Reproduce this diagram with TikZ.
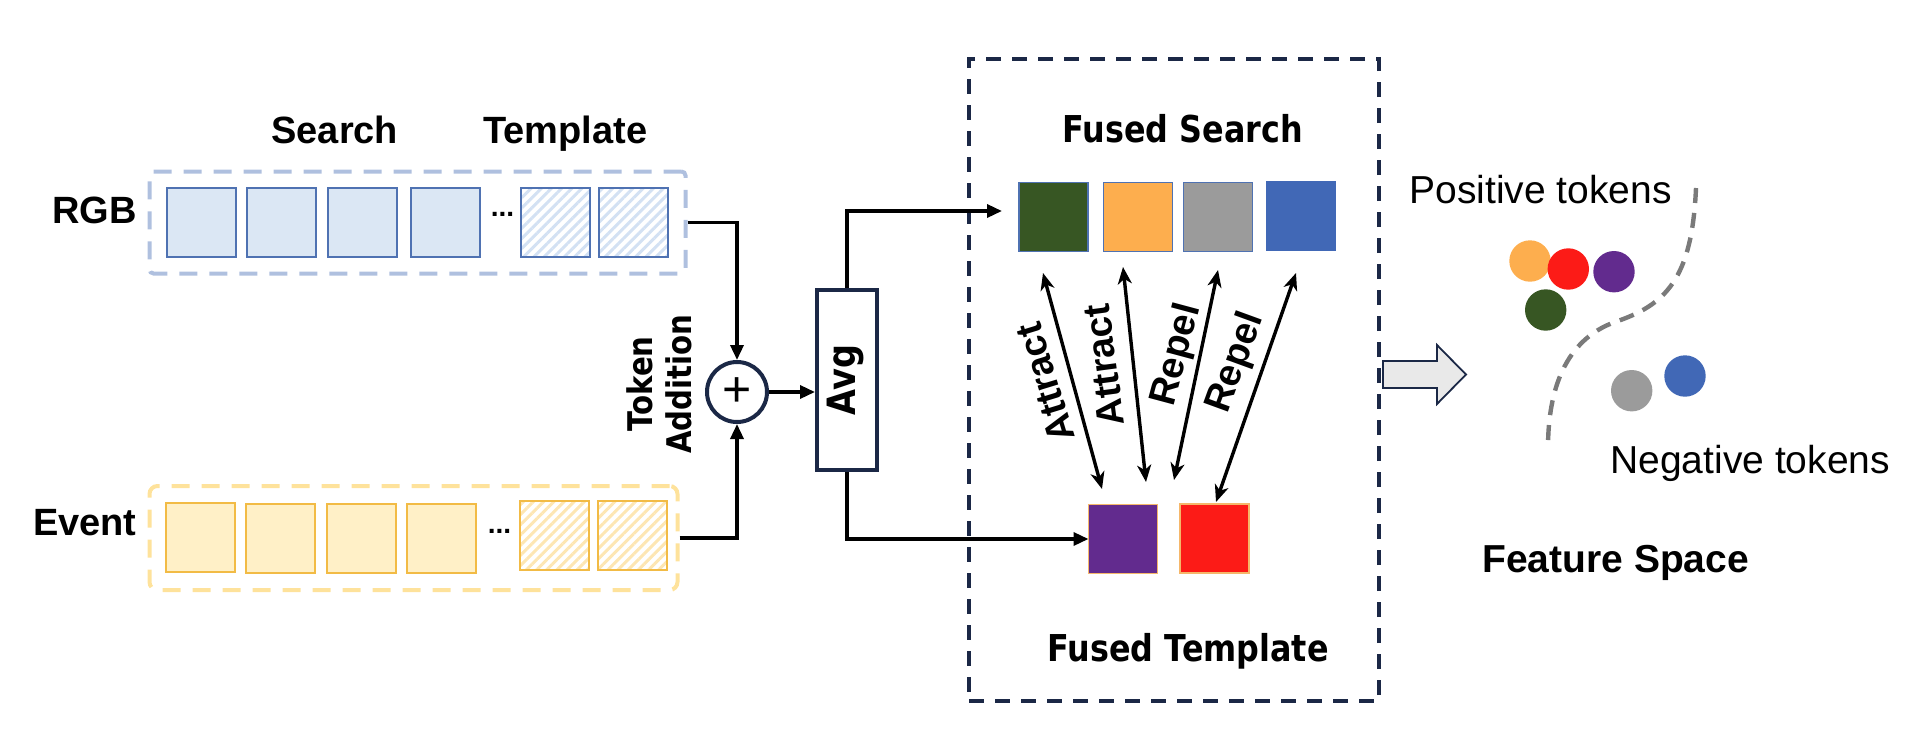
\documentclass[tikz,border=0pt]{standalone}
\usepackage{fontspec}
\setmainfont{Liberation Sans}
\newfontfamily\tah[FakeStretch=0.86]{DejaVu Sans}
\usetikzlibrary{arrows.meta,patterns.meta,calc}
\definecolor{rgbDash}{HTML}{AFC0DF}
\definecolor{rgbFill}{HTML}{DBE7F4}
\definecolor{rgbBorder}{HTML}{4F72B2}
\definecolor{rgbHatch}{HTML}{D3E1F3}
\definecolor{evDash}{HTML}{FEE29B}
\definecolor{evFill}{HTML}{FFF0C7}
\definecolor{evBorder}{HTML}{F2BB45}
\definecolor{evHatch}{HTML}{FDE6B3}
\definecolor{navy}{HTML}{1B2846}
\definecolor{cGreen}{HTML}{375623}
\definecolor{cOrange}{HTML}{FDAE4E}
\definecolor{cGray}{HTML}{9B9B9B}
\definecolor{cBlue}{HTML}{4168B6}
\definecolor{cPurple}{HTML}{622B8E}
\definecolor{cRed}{HTML}{FC1B17}
\definecolor{tplBorder}{HTML}{F5B76A}
\definecolor{curveGray}{HTML}{7A7A7A}
\definecolor{arrowGray}{HTML}{E9E9E9}
\begin{document}
\begin{tikzpicture}[x=0.5pt,y=-0.5pt,
  tok/.style={draw, line width=1pt, minimum width=34.5pt, minimum height=34.5pt, inner sep=0pt, outer sep=0pt},
  rgbtok/.style={tok, draw=rgbBorder, fill=rgbFill},
  rgbhat/.style={tok, draw=rgbBorder, pattern={Lines[angle=45,distance=3.6pt,line width=1.5pt]}, pattern color=rgbHatch},
  evtok/.style={tok, draw=evBorder, fill=evFill},
  evhat/.style={tok, draw=evBorder, pattern={Lines[angle=45,distance=3.6pt,line width=1.5pt]}, pattern color=evHatch},
  fused/.style={draw, line width=0.8pt, minimum width=34.5pt, minimum height=34.5pt, inner sep=0pt, outer sep=0pt},
  lbl/.style={font=\bfseries\fontsize{19}{22}\selectfont, inner sep=0pt},
  plain/.style={font=\fontsize{19.5}{22}\selectfont, inner sep=0pt},
  vlbl/.style={font=\tah\bfseries\fontsize{18.5}{21}\selectfont, inner sep=0pt},
  conn/.style={line width=1.7pt, -{Triangle[length=7.5pt,width=6.5pt]}},
  dbl/.style={line width=1.7pt, {Stealth[length=8.5pt,width=7pt,inset=2.5pt]}-{Stealth[length=8.5pt,width=7pt,inset=2.5pt]}},
  dot/.style={circle, minimum size=20.7pt, inner sep=0pt}
]
\useasboundingbox (0,0) rectangle (1908,750);

% ---------- input boxes ----------
\node[draw=rgbDash, line width=2pt, dash pattern=on 9pt off 6pt, rounded corners=2pt,
      minimum width=268pt, minimum height=51pt, inner sep=0pt] (rgbbox) at (417.5,222.5) {};
\node[draw=evDash, line width=2pt, dash pattern=on 9pt off 6pt, rounded corners=4pt,
      minimum width=264pt, minimum height=52pt, inner sep=0pt] (evbox) at (413.5,538) {};

\node[rgbtok] (r1) at (201,222) {};
\node[rgbtok] (r2) at (281.6,222) {};
\node[rgbtok] (r3) at (362.5,222) {};
\node[rgbtok] (r4) at (445.5,222) {};
\node[rgbhat] (r5) at (555.5,222) {};
\node[rgbhat] (r6) at (633.5,222) {};
\node[font=\bfseries\fontsize{14}{14}\selectfont, anchor=base, inner sep=0pt] (rdots) at (502.5,216) {...};

\node[evtok] (e1) at (200.8,537) {};
\node[evtok] (e2) at (280,538.7) {};
\node[evtok] (e3) at (361.5,538.7) {};
\node[evtok] (e4) at (441.7,538.7) {};
\node[evhat] (e5) at (554,535.7) {};
\node[evhat] (e6) at (632.5,535.7) {};
\node[font=\bfseries\fontsize{14}{14}\selectfont, anchor=base, inner sep=0pt] (edots) at (499.5,533) {...};

\node[lbl, anchor=base east] (rgblbl) at (137,223) {RGB};
\node[lbl, anchor=base east] (evlbl) at (137,535) {Event};
\node[lbl, anchor=base west] (searchlbl) at (271,143) {Search};
\node[lbl, anchor=base west] (templlbl) at (483,143) {Template};

% ---------- fusion ----------
\node[circle, draw=navy, line width=2pt, minimum size=30pt, inner sep=0pt,
      font=\fontsize{25}{25}\selectfont] (plus) at (737,392) {+};
\node[font=\tah\bfseries\fontsize{17}{19.5}\selectfont, rotate=90, align=center, inner sep=0pt] (tokadd) at (659,384) {Token\\Addition};
\node[draw=navy, line width=2pt, minimum width=30pt, minimum height=90pt, inner sep=0pt] (avg) at (847,380) {};
\node[font=\tah\bfseries\fontsize{19.5}{22}\selectfont, rotate=90, inner sep=0pt] (avgtxt) at (845,380) {Avg};

% ---------- fused tokens ----------
\node[draw=navy, line width=2pt, dash pattern=on 7.5pt off 5.5pt,
      minimum width=205pt, minimum height=321pt, inner sep=0pt] (fbox) at (1174,380) {};
\node[vlbl, anchor=base west] (fslbl) at (1062,142) {Fused Search};
\node[vlbl, anchor=base west] (ftlbl) at (1047,661) {Fused Template};

\node[fused, draw=rgbBorder, fill=cGreen] (g1) at (1053.5,217) {};
\node[fused, draw=rgbBorder, fill=cOrange] (o2) at (1138,217) {};
\node[fused, draw=rgbBorder, fill=cGray] (y3) at (1218,217) {};
\node[fused, draw=cBlue, fill=cBlue] (b4) at (1301,216) {};
\node[fused, draw=tplBorder, fill=cPurple] (pu) at (1123,539) {};
\node[fused, draw=tplBorder, fill=cRed] (rd) at (1214.5,538.5) {};

% ---------- connectors ----------
\draw[conn] (rgbbox.east) -| (plus.north);
\draw[conn] (evbox.east) -| (plus.south);
\draw[conn] (plus.east) -- (plus.east -| avg.west);
\coordinate (fsin) at (1002,211);
\draw[conn] (avg.north) |- (fsin);
\draw[conn] (avg.south) |- (pu.west);

\coordinate (a1t) at (1043,273); \coordinate (a1b) at (1102,489);
\coordinate (a2t) at (1123,267); \coordinate (a2b) at (1146,482);
\coordinate (a3t) at (1218,270); \coordinate (a3b) at (1174,480);
\coordinate (a4t) at (1296,273); \coordinate (a4b) at (1216,502);
\draw[dbl] (a1t) -- (a1b);
\draw[dbl] (a2t) -- (a2b);
\draw[dbl] (a3t) -- (a3b);
\draw[dbl] (a4t) -- (a4b);

\node[lbl, rotate=107] (at1) at (1045,383) {Attract};
\node[lbl, rotate=97.5] (at2) at (1104,365) {Attract};
\node[lbl, rotate=75] (rp1) at (1177,355) {Repel};
\node[lbl, rotate=70] (rp2) at (1236,363) {Repel};

% ---------- feature space ----------
\draw[fill=arrowGray, draw=navy, line width=0.9pt]
  (1383,361) -- (1437,361) -- (1437,345) -- (1466,374.5) -- (1437,404) -- (1437,388) -- (1383,388) -- cycle;

\draw[curveGray, line width=2.2pt, dash pattern=on 7.5pt off 5pt]
  (1696,188) .. controls (1692,280) and (1665,305) .. (1615,322)
  .. controls (1565,340) and (1548,390) .. (1548,448);

\node[dot, fill=cOrange] (c1) at (1530,261) {};
\node[dot, fill=cRed] (c2) at (1568.3,269) {};
\node[dot, fill=cPurple] (c3) at (1614,271.7) {};
\node[dot, fill=cGreen] (c4) at (1545.7,310) {};
\node[dot, fill=cGray] (c5) at (1631.7,390.7) {};
\node[dot, fill=cBlue] (c6) at (1685,376) {};

\node[plain, anchor=base west] (poslbl) at (1409,203) {Positive tokens};
\node[plain, anchor=base west] (neglbl) at (1610,473) {Negative tokens};
\node[font=\bfseries\fontsize{19.5}{22}\selectfont, inner sep=0pt, anchor=base west] (fslabel) at (1482,572) {Feature Space};
\end{tikzpicture}
\end{document}
